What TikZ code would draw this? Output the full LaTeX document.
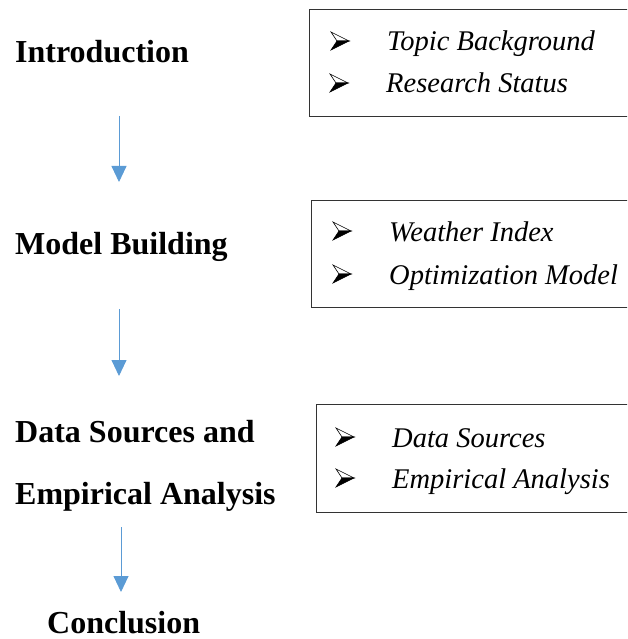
\documentclass[tikz,border=0pt]{standalone}
\usepackage{fontspec}
\setmainfont{Liberation Serif}
\usetikzlibrary{arrows.meta}
\definecolor{flowblue}{RGB}{91,155,213}
\tikzset{head/.style={anchor=base west,inner sep=0pt,font=\fontsize{32}{36}\selectfont\bfseries}}
\tikzset{item/.style={anchor=base west,inner sep=0pt,font=\fontsize{28.5}{32}\selectfont\itshape}}
\tikzset{
bulletline/.style={draw=black,line width=0.6pt,line join=miter},
listbox/.style={draw=black!80,line width=0.8pt},
flow/.style={draw=flowblue,line width=0.9pt,-{Triangle[width=15pt,length=16pt,fill=flowblue]}}
}

\begin{document}
\begin{tikzpicture}[x=1pt,y=-1pt]
\useasboundingbox (0,0) rectangle (627,639);
\clip (0,0) rectangle (627,639);

% stages on the left
\node[head] (intro) at (15,63) {Introduction};
\node[head] (model) at (15,254) {Model Building};
\node[head] (data) at (15,442) {Data Sources and};
\node[head] (empir) at (15,504) {Empirical Analysis};
\node[head] (concl) at (47,633) {Conclusion};

% boxes on the right
\draw[listbox] (309,9) rectangle (640,116);
\draw[listbox] (311,200) rectangle (640,307);
\draw[listbox] (316,404) rectangle (640,512);

\foreach \x/\y/\txt [count=\i] in {387/51/Topic Background, 386/93/Research Status, 389/241/Weather Index, 389/284/Optimization Model, 392/447/Data Sources, 392/488/Empirical Analysis}
 {
 \node[item] (t\i) at (\x,\y) {\txt};
 % arrowhead bullet
 \begin{scope}[shift={(\x-56,\y)}]
  \draw[bulletline] (0,-19) -- (18,-10) -- (6,-10) -- cycle;
  \filldraw[bulletline,fill=black] (6,-10) -- (18,-10) -- (0,-1) -- cycle;
 \end{scope}
 }

% arrows
\coordinate (a1) at (119,116);
\coordinate (a2) at (119,182);
\coordinate (a3) at (119,309);
\coordinate (a4) at (119,376);
\coordinate (a5) at (121,527);
\coordinate (a6) at (121,592);
\draw[flow] (a1) -- (a2);
\draw[flow] (a3) -- (a4);
\draw[flow] (a5) -- (a6);

\end{tikzpicture}
\end{document}
